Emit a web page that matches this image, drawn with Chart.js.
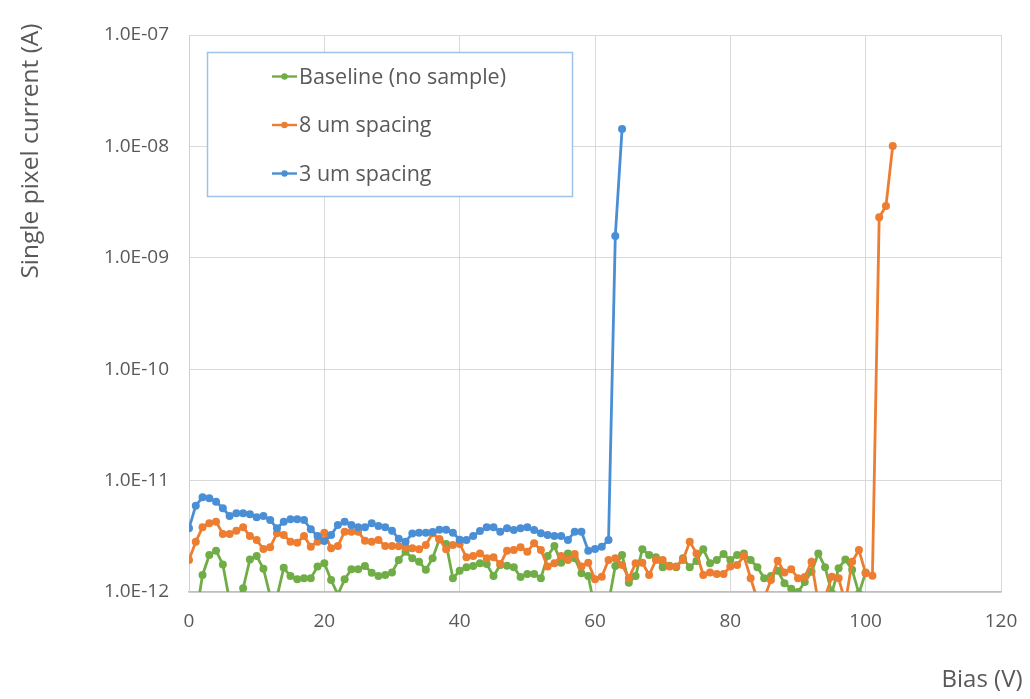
<!DOCTYPE html>
<html>
<head>
<meta charset="utf-8">
<script src="https://cdn.jsdelivr.net/npm/chart.js@4.4.1/dist/chart.umd.min.js"></script>
<style>
  html, body { margin: 0; padding: 0; background: #ffffff; }
  canvas { display: block; }
</style>
</head>
<body>
<canvas id="c" width="1030" height="699"></canvas>
<script>
// Bias steps (V), shared by all three sweeps
const biasV = [
  0, 1, 2, 3, 4, 5, 6, 7, 8, 9, 10, 11, 12, 13, 14, 15, 16, 17, 18, 19,
  20, 21, 22, 23, 24, 25, 26, 27, 28, 29, 30, 31, 32, 33, 34, 35, 36, 37, 38, 39,
  40, 41, 42, 43, 44, 45, 46, 47, 48, 49, 50, 51, 52, 53, 54, 55, 56, 57, 58, 59,
  60, 61, 62, 63, 64, 65, 66, 67, 68, 69, 70, 71, 72, 73, 74, 75, 76, 77, 78, 79,
  80, 81, 82, 83, 84, 85, 86, 87, 88, 89, 90, 91, 92, 93, 94, 95, 96, 97, 98, 99,
  100, 101, 102, 103, 104
];

// Single pixel current in pA, one entry per bias step
const baselinePA = [
  0.5, 0.6, 1.42, 2.15, 2.35, 1.77, 0.83, 0.82, 1.08, 1.96,
  2.10, 1.62, 0.92, 0.9, 1.65, 1.39, 1.30, 1.33, 1.33, 1.69,
  1.81, 1.28, 0.95, 1.30, 1.60, 1.60, 1.71, 1.49, 1.39, 1.42,
  1.50, 1.94, 2.30, 2.01, 1.87, 1.58, 2.01, 2.97, 2.70, 1.33,
  1.55, 1.67, 1.71, 1.81, 1.78, 1.39, 1.75, 1.72, 1.67, 1.36,
  1.45, 1.45, 1.33, 2.10, 2.59, 1.83, 2.22, 2.01, 1.47, 1.39,
  0.7, 0.6, 0.8, 1.71, 2.15, 1.21, 1.39, 2.42, 2.15, 2.05,
  1.67, 1.72, 1.67, 2.01, 1.67, 1.90, 2.42, 1.81, 1.94, 2.19,
  1.94, 2.15, 2.22, 1.94, 1.67, 1.33, 1.39, 1.55, 1.20, 1.07,
  1.00, 1.23, 1.52, 2.22, 1.67, 0.98, 1.63, 1.96, 1.58, 0.97,
  1.50
];

const spacing8PA = [
  1.94, 2.83, 3.81, 4.14, 4.28, 3.32, 3.32, 3.55, 3.81, 3.18,
  2.93, 2.43, 2.52, 3.37, 3.25, 2.83, 2.77, 3.18, 2.55, 2.83,
  3.41, 2.47, 2.59, 3.48, 3.48, 3.48, 2.89, 2.83, 2.93, 2.59,
  2.59, 2.58, 2.52, 2.47, 2.42, 2.64, 3.37, 2.97, 2.42, 2.64,
  2.70, 2.05, 2.10, 2.22, 2.01, 2.05, 1.78, 2.35, 2.38, 2.52,
  2.30, 2.74, 2.38, 1.69, 1.81, 2.10, 1.94, 2.19, 1.69, 1.83,
  1.30, 1.37, 1.94, 2.01, 1.75, 1.33, 1.81, 1.83, 1.42, 1.94,
  1.94, 1.69, 1.69, 1.94, 2.83, 2.22, 1.42, 1.50, 1.45, 1.45,
  1.69, 1.75, 2.10, 1.33, 0.85, 0.88, 1.28, 1.91, 1.50, 1.60,
  1.33, 1.36, 1.87, 0.8, 0.9, 1.37, 1.33, 0.8, 1.87, 2.38,
  1.47, 1.40, 2310, 2920, 10100
];

const spacing3PA = [
  3.73, 5.95, 7.08, 6.93, 6.47, 5.64, 4.81, 5.08, 5.08, 4.98,
  4.68, 4.81, 4.43, 3.73, 4.28, 4.49, 4.49, 4.43, 3.65, 3.18,
  2.87, 3.25, 3.99, 4.28, 3.99, 3.81, 3.81, 4.14, 3.91, 3.81,
  3.55, 3.00, 2.83, 3.35, 3.41, 3.41, 3.45, 3.62, 3.62, 3.40,
  2.95, 2.93, 3.18, 3.53, 3.81, 3.81, 3.48, 3.73, 3.60, 3.73,
  3.81, 3.60, 3.37, 3.25, 3.18, 3.18, 2.93, 3.48, 3.48, 2.35,
  2.43, 2.55, 2.93, 1570, 14300
];

const seriesNames = ['Baseline (no sample)', '8 um spacing', '3 um spacing'];
const seriesColors = ['#70AD47', '#ED7D31', '#4A8FD6'];

const xTicks = [0, 20, 40, 60, 80, 100, 120];
const yTicks = [1e-12, 1e-11, 1e-10, 1e-9, 1e-8, 1e-7];
const yTickLabels = ['1.0E-12', '1.0E-11', '1.0E-10', '1.0E-09', '1.0E-08', '1.0E-07'];

const xTitle = 'Bias (V)';
const yTitle = 'Single pixel current (A)';

const PA = 1e-12; // picoamp -> amp

const FONT = '"Open Sans", "DejaVu Sans", sans-serif';
const TEXT_GREY = '#595959';

function toPoints(valuesPA) {
  return valuesPA.map((v, i) => ({ x: biasV[i], y: v * PA }));
}

function lineSet(idx, values, order) {
  return {
    label: seriesNames[idx],
    data: toPoints(values),
    borderColor: seriesColors[idx],
    backgroundColor: seriesColors[idx],
    borderWidth: 2.8,
    pointRadius: 4,
    pointBorderWidth: 0,
    pointHoverRadius: 4,
    tension: 0,
    order: order
  };
}

// Boxed legend sitting inside the plot, top left
const boxLegend = {
  id: 'boxLegend',
  afterDraw(chart) {
    const ctx = chart.ctx;
    const box = { x: 207.5, y: 52.5, w: 365, h: 144 };
    ctx.save();
    ctx.fillStyle = '#ffffff';
    ctx.fillRect(box.x, box.y, box.w, box.h);
    ctx.strokeStyle = '#9DC3E6';
    ctx.lineWidth = 1.5;
    ctx.strokeRect(box.x, box.y, box.w, box.h);
    const rows = [76.5, 125, 173.5];
    ctx.font = '21.5px ' + FONT;
    ctx.textBaseline = 'middle';
    ctx.textAlign = 'left';
    chart.data.datasets.forEach((ds, i) => {
      const y = rows[i];
      ctx.strokeStyle = ds.borderColor;
      ctx.lineWidth = 2.4;
      ctx.beginPath();
      ctx.moveTo(272, y);
      ctx.lineTo(297, y);
      ctx.stroke();
      ctx.fillStyle = ds.borderColor;
      ctx.beginPath();
      ctx.arc(284.5, y, 3.2, 0, Math.PI * 2);
      ctx.fill();
      ctx.fillStyle = TEXT_GREY;
      ctx.fillText(ds.label, 299, y + 1);
    });
    ctx.restore();
  }
};

// Axis titles placed like the spreadsheet layout
const axisTitles = {
  id: 'axisTitles',
  afterDraw(chart) {
    const ctx = chart.ctx;
    ctx.save();
    ctx.fillStyle = TEXT_GREY;
    ctx.font = '24px ' + FONT;
    ctx.textAlign = 'center';
    ctx.textBaseline = 'alphabetic';
    ctx.fillText(xTitle, 982, 687);
    ctx.font = '24.5px ' + FONT;
    ctx.translate(38, 151);
    ctx.rotate(-Math.PI / 2);
    ctx.fillText(yTitle, 0, 0);
    ctx.restore();
  }
};

function draw() {
  new Chart(document.getElementById('c'), {
    type: 'line',
    data: {
      datasets: [
        lineSet(0, baselinePA, 3),
        lineSet(1, spacing8PA, 2),
        lineSet(2, spacing3PA, 1)
      ]
    },
    options: {
      responsive: false,
      animation: false,
      devicePixelRatio: 1,
      layout: { padding: { left: 0, top: 35, right: 29, bottom: 0 } },
      plugins: {
        legend: { display: false },
        tooltip: { enabled: false },
        title: { display: false }
      },
      scales: {
        x: {
          type: 'linear',
          min: xTicks[0],
          max: xTicks[xTicks.length - 1],
          afterBuildTicks(scale) {
            scale.ticks = xTicks.map(v => ({ value: v }));
          },
          afterFit(scale) {
            scale.height = 107;
            scale.paddingLeft = 0;
            scale.paddingRight = 0;
          },
          grid: { color: '#D9D9D9', lineWidth: 1, drawTicks: false },
          border: { color: '#BFBFBF', width: 1.5 },
          ticks: {
            color: TEXT_GREY,
            font: { family: FONT, size: 19 },
            padding: 18,
            maxRotation: 0,
            callback: v => String(v)
          }
        },
        y: {
          type: 'logarithmic',
          min: yTicks[0],
          max: yTicks[yTicks.length - 1],
          afterBuildTicks(scale) {
            scale.ticks = yTicks.map(v => ({ value: v }));
          },
          afterFit(scale) {
            scale.width = 189;
            scale.paddingTop = 0;
            scale.paddingBottom = 0;
          },
          grid: { color: '#D9D9D9', lineWidth: 1, drawTicks: false },
          border: { color: '#D0D0D0', width: 1 },
          ticks: {
            color: TEXT_GREY,
            font: { family: FONT, size: 19 },
            padding: 20,
            callback: v => yTickLabels[yTicks.indexOf(v)]
          }
        }
      }
    },
    plugins: [boxLegend, axisTitles]
  });
}

if (document.fonts && document.fonts.load) {
  Promise.all([
    document.fonts.load('19px "Open Sans"'),
    document.fonts.load('24px "Open Sans"')
  ]).then(draw, draw);
} else {
  draw();
}
</script>
</body>
</html>
